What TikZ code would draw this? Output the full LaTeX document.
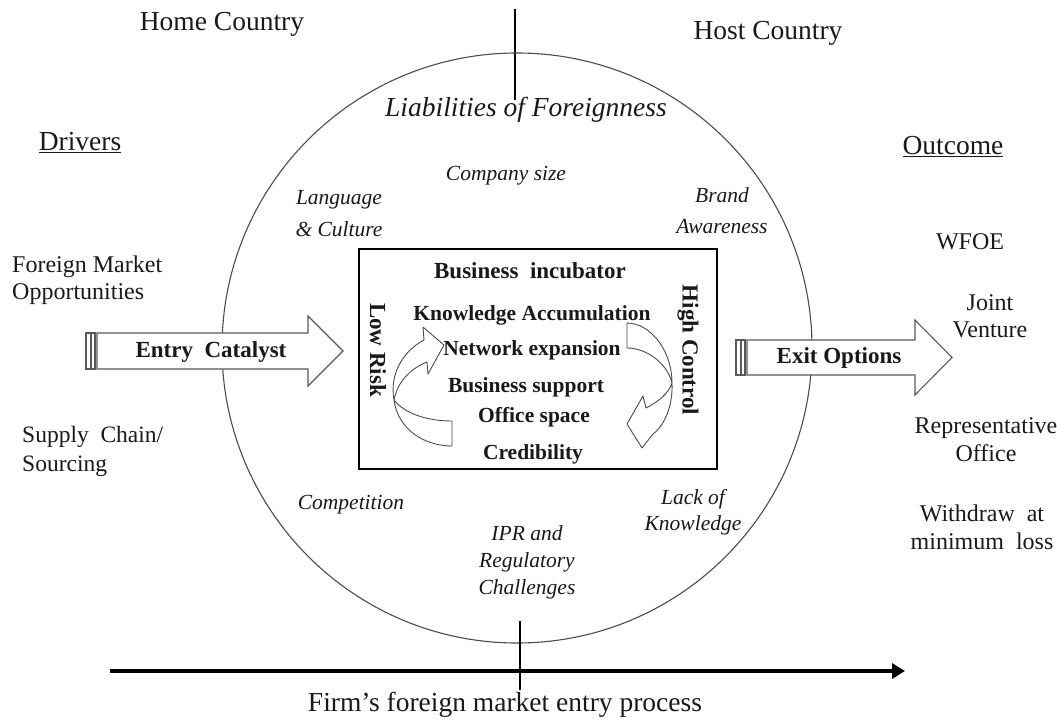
\documentclass[tikz,border=0pt]{standalone}
\usepackage{fontspec}
\setmainfont{Liberation Serif}
\usetikzlibrary{arrows.meta}
\newcommand\fsz[2]{\fontsize{#1}{#2}\selectfont}
\begin{document}
\begin{tikzpicture}[x=1pt,y=-1pt,
  lbl/.style={inner sep=0pt,align=center,text=black!90},
  big/.style={lbl,font=\fsz{27.5}{33}},
  side/.style={lbl,font=\fsz{24}{27.5}},
  barrier/.style={lbl,font=\itshape\fsz{21.5}{27}},
  strong/.style={lbl,font=\bfseries\fsz{21.5}{26}},
  strongbig/.style={lbl,font=\bfseries\fsz{23}{26}},
  blockarrow/.style={draw=black!65,fill=white,line width=1.1pt,line join=miter},
  curvedband/.style={draw=black!70,fill=white,line width=0.9pt,line join=round},
  ring/.style={draw=black!70,line width=1.1pt},
  divider/.style={draw=black,line width=1.4pt}]
\useasboundingbox (0,0) rectangle (1057,720);

% border between home and host country, and the ring of liabilities
\coordinate (topA) at (515,9);
\coordinate (topB) at (515,100);
\draw[divider] (topA) -- (topB);
\coordinate (ringC) at (517,348);
\draw[ring] (ringC) circle[radius=295];

% time axis
\coordinate (tstart) at (110,671);
\coordinate (tend) at (905,671);
\coordinate (tickA) at (520,621);
\coordinate (tickB) at (520,690);
\draw[line width=4pt,-{Triangle[length=13pt,width=15pt]}] (tstart) -- (tend);
\draw[divider] (tickA) -- (tickB);
\node[big] (firm) at (505,705) {Firm’s foreign market entry process};

% headings
\node[big] (home) at (222,24) {Home Country};
\node[big] (host) at (768,33) {Host Country};
\node[big,font=\itshape\fsz{27.5}{33}] (liab) at (526,110) {Liabilities of Foreignness};
\node[big] (drivers) at (80,143) {\underline{Drivers}};
\node[big] (outcome) at (953,147) {\underline{Outcome}};

% barriers inside the ring
\node[barrier] (csize) at (506,176) {Company size};
\node[barrier,font=\itshape\fsz{21.5}{32}] (lang) at (339,214) {Language\\\& Culture};
\node[barrier,font=\itshape\fsz{21.5}{31}] (brand) at (722,211) {Brand\\Awareness};
\node[barrier] (compet) at (351,505) {Competition};
\node[barrier,font=\itshape\fsz{21.5}{26}] (lack) at (693,512) {Lack of\\Knowledge};
\node[barrier] (ipr) at (527,562) {IPR and\\Regulatory\\Challenges};

% drivers
\node[side,anchor=west,align=left] (fmo) at (12,280) {Foreign Market\\Opportunities};
\node[side,anchor=west,align=left,font=\fsz{23.5}{29}] (supply) at (22,451) {Supply\ \ Chain/\\Sourcing};

% outcomes
\node[side] (wfoe) at (970,242) {WFOE};
\node[side] (jv) at (990,316) {Joint\\Venture};
\node[side,font=\fsz{24}{28}] (rep) at (986,440) {Representative\\Office};
\node[side,font=\fsz{24}{28}] (withdraw) at (982,527) {Withdraw\ \ at\\minimum\ \ loss};

% entry and exit block arrows
\draw[blockarrow] (86,333) rectangle (90.5,369);
\draw[blockarrow] (91.5,333) rectangle (95,369);
\draw[blockarrow] (97,333) -- (308,333) -- (308,316) -- (343,351) -- (308,386) -- (308,369) -- (97,369) -- cycle;
\node[strongbig] (entry) at (211,352) {Entry\ \ Catalyst};

\draw[blockarrow] (736,340) rectangle (740.5,375);
\draw[blockarrow] (741.5,340) rectangle (745,375);
\draw[blockarrow] (747,340) -- (915,340) -- (915,320) -- (952,357.5) -- (915,395) -- (915,375) -- (747,375) -- cycle;
\node[strongbig] (exit) at (839,358) {Exit Options};

% business incubator box
\coordinate (boxNW) at (359,249);
\coordinate (boxSE) at (717,469);
\draw[draw=black,line width=1.3pt] (boxNW) rectangle (boxSE);
\node[strongbig] (incub) at (530,271) {Business\ \ incubator};
\node[strong] (know) at (532,315) {Knowledge Accumulation};
\node[strong] (net) at (532,350) {Network expansion};
\node[strong] (supp) at (526,387) {Business support};
\node[strong] (office) at (534,417) {Office space};
\node[strong] (cred) at (533,454) {Credibility};
\node[strongbig,rotate=-90] (low) at (378,350) {Low Risk};
\node[strongbig,rotate=-90] (high) at (688,350) {High Control};

% curved arrow on the low-risk side: back fold, then front band with head
\draw[curvedband] (394,400) .. controls (398,430) and (425,446) .. (452,446)
  -- (452,421) .. controls (428,421) and (405,414) .. (394,400) -- cycle;
\draw[curvedband] (394,400) .. controls (389,372) and (405,350) .. (424,340)
  -- (423,327) -- (444,345) -- (428,374) -- (427,362)
  .. controls (412,368) and (398,380) .. (394,400) -- cycle;

% curved arrow on the high-control side
\draw[curvedband] (672,383) .. controls (672,350) and (650,323) .. (627,323)
  -- (627,348) .. controls (648,348) and (668,365) .. (672,383) -- cycle;
\draw[curvedband] (672,383) .. controls (673,405) and (665,425) .. (653,434)
  -- (642,448) -- (627,424) -- (643,396) -- (646,408)
  .. controls (658,402) and (669,393) .. (672,383) -- cycle;
\end{tikzpicture}
\end{document}
